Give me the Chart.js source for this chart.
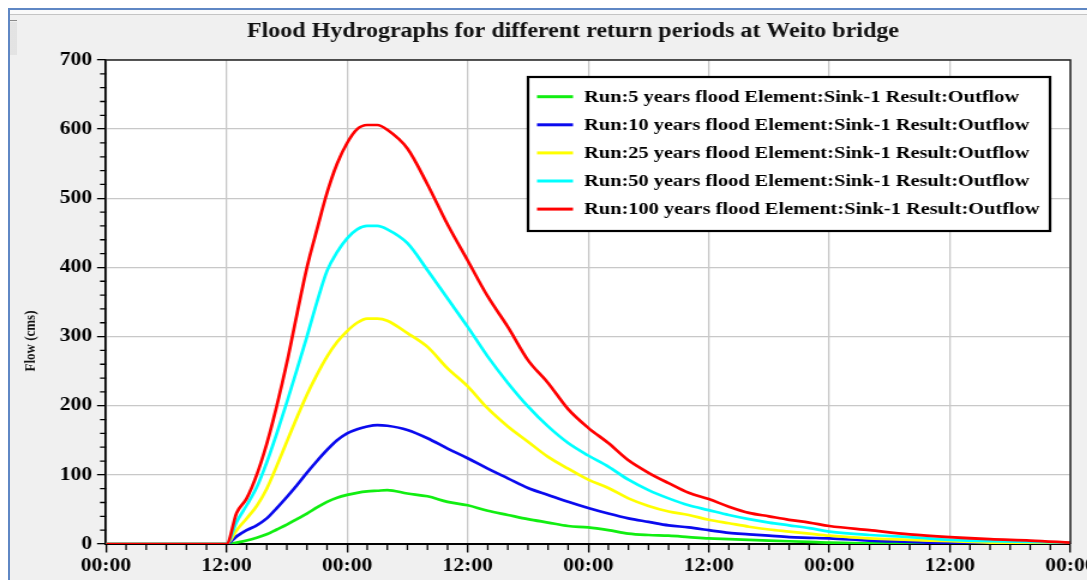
<!DOCTYPE html>
<html>
<head>
<meta charset="utf-8">
<script src="https://cdn.jsdelivr.net/npm/chart.js@4.4.1/dist/chart.umd.min.js"></script>
<style>
  html, body { margin: 0; padding: 0; background: #fff; overflow: hidden; width: 1087px; height: 580px; }
  #panel { position: absolute; left: 8px; top: 8px; width: 1079px; height: 572px; box-sizing: border-box;
           border-top: 2px solid #5f87c4; border-left: 2px solid #5f87c4; background: #f0f0f0; }
  #strip { position: absolute; left: 0; top: 0; right: 0; height: 4px; background: #fafafa; border-bottom: 1px solid #c4c4c4; }
  #grip { position: absolute; left: 0; top: 10px; width: 7px; height: 1px; background: #8a8a8a; }
  #dots { position: absolute; left: 0; top: 12px; width: 7px; height: 33px;
          background-image: radial-gradient(#d4d4d4 0.6px, transparent 0.8px); background-size: 2px 2px; }
  /* the chart is laid out 1.2x narrower and stretched horizontally */
  #wrap { position: absolute; left: 0; top: 0; width: 916px; height: 580px; transform: scaleX(1.2); transform-origin: 0 0; }
</style>
</head>
<body>
<div id="panel"><div id="strip"></div><div id="grip"></div><div id="dots"></div></div>
<div id="wrap"><canvas id="chartcanvas" width="916" height="580"></canvas></div>
<script>
// time axis in hours from 00:00 of the first day
var hours = [0, 12, 13, 14, 15, 16, 17, 18, 19, 20, 21, 22, 23, 24, 25, 26, 27, 28,
	30, 32, 34, 36, 38, 40, 42, 44, 46, 48, 50, 52, 54, 56, 58, 60, 62, 64, 66, 68, 70, 72,
	76, 80, 84, 88, 92, 96];

// outflow (cms) per return period
var flow5 = [0, 0, 2, 5, 9, 14, 21, 28, 36, 44, 53, 61, 67, 71, 74, 76, 77, 78,
	73, 69, 61, 56, 48, 42, 36, 31, 26, 24, 20, 15, 13, 12, 10, 8, 7, 6, 5, 4, 3, 2,
	1, 1, 0, 0, 0, 0];
var flow10 = [0, 0, 11, 20, 27, 37, 52, 68, 85, 103, 120, 136, 150, 160, 166, 170, 172, 171,
	165, 153, 138, 124, 109, 95, 81, 71, 61, 52, 44, 37, 32, 27, 24, 20, 16, 14, 12, 10, 9, 8,
	5, 3, 1, 1, 0, 0];
var flow25 = [0, 0, 20, 37, 55, 80, 113, 148, 183, 216, 245, 271, 292, 308, 320, 326, 326, 323,
	305, 285, 254, 228, 196, 170, 148, 126, 109, 93, 81, 66, 55, 47, 42, 35, 30, 25, 21, 18, 15, 12,
	8, 6, 4, 2, 1, 1];
var flow50 = [0, 0, 32, 56, 82, 118, 160, 205, 252, 300, 350, 395, 422, 442, 455, 460, 460, 455,
	435, 396, 355, 314, 271, 233, 199, 170, 146, 128, 112, 93, 78, 66, 56, 49, 42, 36, 31, 27, 23, 18,
	13, 10, 6, 4, 3, 2];
var flow100 = [0, 0, 45, 66, 100, 145, 200, 262, 332, 400, 455, 508, 550, 580, 600, 606, 606, 599,
	572, 520, 462, 410, 358, 314, 266, 233, 195, 168, 146, 121, 103, 88, 74, 65, 54, 45, 40, 35, 31, 26,
	20, 14, 10, 7, 5, 2];

var seriesLabels = [
	"Run:5 years flood Element:Sink-1 Result:Outflow",
	"Run:10 years flood Element:Sink-1 Result:Outflow",
	"Run:25 years flood Element:Sink-1 Result:Outflow",
	"Run:50 years flood Element:Sink-1 Result:Outflow",
	"Run:100 years flood Element:Sink-1 Result:Outflow"
];
var seriesColors = ["#11ee11", "#0a0aee", "#ffff00", "#00ffff", "#ff0000"];
var seriesValues = [flow5, flow10, flow25, flow50, flow100];

var chartTitle = "Flood Hydrographs for different return periods at Weito bridge";
var yTitle = "Flow (cms)";

var serif = '"Liberation Serif", "Times New Roman", serif';

function points(values) {
	var out = [];
	for (var i in hours) {
		out.push({ x: hours[i], y: values[i] });
	}
	return out;
}

var datasets = [];
for (var i = 0; i < seriesValues.length; i++) {
	datasets.push({
		label: seriesLabels[i],
		data: points(seriesValues[i]),
		borderColor: seriesColors[i],
		backgroundColor: seriesColors[i],
		borderWidth: 2.7,
		pointRadius: 0,
		fill: false,
		cubicInterpolationMode: 'monotone',
		order: seriesValues.length - 1 - i   // 100 year run on top
	});
}

// white plot background, minor ticks, frame, titles and the boxed legend
var decorations = {
	id: 'decorations',
	beforeDraw: function(chart) {
		var a = chart.chartArea, ctx = chart.ctx;
		ctx.save();
		ctx.fillStyle = '#fff';
		ctx.fillRect(a.left, a.top, a.right - a.left, a.bottom - a.top);
		ctx.restore();
	},
	afterDraw: function(chart) {
		var a = chart.chartArea, ctx = chart.ctx;
		var xs = chart.scales.x, ys = chart.scales.y;
		ctx.save();

		// minor ticks: every 2 hours and every 20 cms
		ctx.strokeStyle = '#000';
		ctx.lineWidth = 1.3;
		ctx.beginPath();
		for (var h = 0; h <= 96; h += 2) {
			if (h % 12 === 0) continue;
			var px = xs.getPixelForValue(h);
			ctx.moveTo(px, a.bottom);
			ctx.lineTo(px, a.bottom + 6);
		}
		for (var v = 0; v <= 700; v += 20) {
			if (v % 100 === 0) continue;
			var py = ys.getPixelForValue(v);
			ctx.moveTo(a.left - 5, py);
			ctx.lineTo(a.left, py);
		}
		ctx.stroke();

		// top and right frame
		ctx.strokeStyle = '#222';
		ctx.lineWidth = 1.5;
		ctx.beginPath();
		ctx.moveTo(a.left, a.top);
		ctx.lineTo(a.right, a.top);
		ctx.lineTo(a.right, a.bottom);
		ctx.stroke();

		// chart title
		ctx.fillStyle = '#111';
		ctx.font = 'bold 20px ' + serif;
		ctx.textAlign = 'center';
		ctx.textBaseline = 'middle';
		ctx.fillText(chartTitle, 477.5, 31.5);

		// y axis title
		ctx.save();
		ctx.translate(25.8, 341);
		ctx.rotate(-Math.PI / 2);
		ctx.font = 'bold 13px ' + serif;
		ctx.fillText(yTitle, 0, 0);
		ctx.restore();

		// legend box
		var bx = 440, by = 77, bw = 435, bh = 154;
		ctx.fillStyle = '#fff';
		ctx.fillRect(bx, by, bw, bh);
		ctx.strokeStyle = '#000';
		ctx.lineWidth = 2.2;
		ctx.strokeRect(bx, by, bw, bh);
		ctx.font = 'bold 17px ' + serif;
		ctx.textAlign = 'left';
		ctx.textBaseline = 'middle';
		for (var k = 0; k < seriesLabels.length; k++) {
			var ry = 96.7 + k * 28.1;
			ctx.strokeStyle = seriesColors[k];
			ctx.lineWidth = 3;
			ctx.beginPath();
			ctx.moveTo(447.5, ry);
			ctx.lineTo(477.5, ry);
			ctx.stroke();
			ctx.fillStyle = '#000';
			ctx.fillText(seriesLabels[k], 486.7, ry + 0.5);
		}
		ctx.restore();
	}
};

var ctx = document.getElementById('chartcanvas');

var LineGraph = new Chart(ctx, {
	type: 'line',
	data: { datasets: datasets },
	plugins: [decorations],
	options: {
		responsive: false,
		animation: false,
		devicePixelRatio: 1,
		layout: { padding: { top: 60, right: 23.5, bottom: 0, left: 0 } },
		plugins: {
			legend: { display: false },
			title: { display: false },
			tooltip: { enabled: false }
		},
		scales: {
			x: {
				type: 'linear',
				min: 0,
				max: 96,
				afterFit: function(scale) { scale.height = 36; },
				ticks: {
					stepSize: 12,
					autoSkip: false,
					maxRotation: 0,
					padding: 3,
					color: '#000',
					font: { family: serif, size: 18, weight: 'bold' },
					callback: function(value) { return value % 24 === 0 ? '00:00' : '12:00'; }
				},
				grid: { color: '#c8c8c8', lineWidth: 1.3, tickLength: 8.5, tickColor: '#000', tickWidth: 1.4 },
				border: { color: '#000', width: 2 }
			},
			y: {
				min: 0,
				max: 700,
				afterFit: function(scale) { scale.width = 88.33; },
				ticks: {
					stepSize: 100,
					padding: 4,
					color: '#000',
					font: { family: serif, size: 18, weight: 'bold' }
				},
				grid: { color: '#c8c8c8', lineWidth: 1.3, tickLength: 7.5, tickColor: '#000', tickWidth: 1.3 },
				border: { color: '#000', width: 1.7 }
			}
		}
	}
});
</script>
</body>
</html>
